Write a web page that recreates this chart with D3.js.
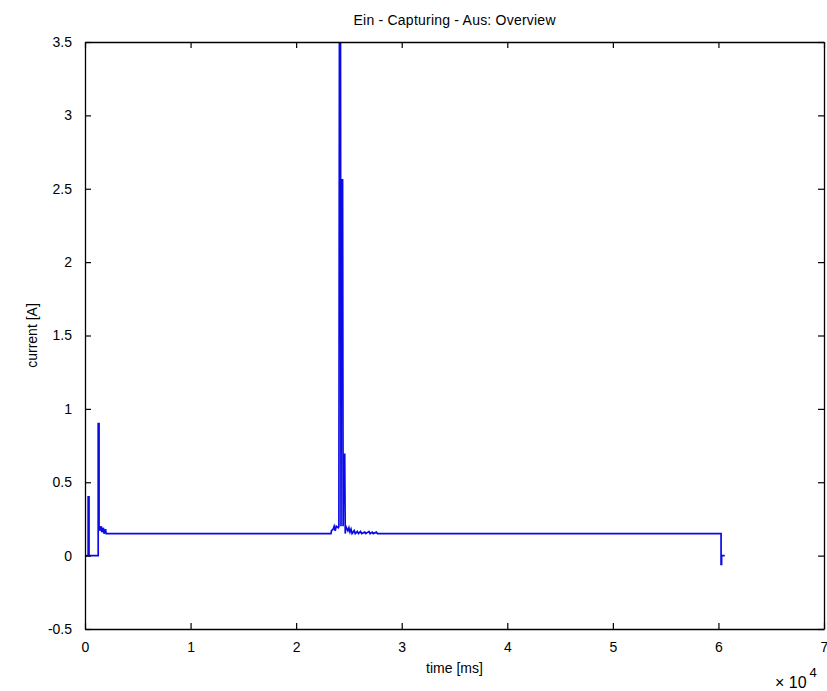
<!DOCTYPE html>
<html><head><meta charset="utf-8">
<script src="https://cdn.jsdelivr.net/npm/d3@7"></script>
<style>body{margin:0;background:#fff}text{font-family:"Liberation Sans",Arial,sans-serif;fill:#000}</style>
</head><body><svg id="c" width="827" height="691"></svg>
<script>
const xTicks=[0,10000,20000,30000,40000,50000,60000,70000];
const xTickLabels=["0","1","2","3","4","5","6","7"];
const yTicks=[-0.5,0,0.5,1,1.5,2,2.5,3,3.5];
const yTickLabels=["-0.5","0","0.5","1","1.5","2","2.5","3","3.5"];
const timeMs=[0,300,300,380,380,1250,1250,1330,1330,1400,1450,1550,1600,1750,1800,1950,2000,
 8000,15000,22000,23300,23350,23500,23600,23700,23800,24000,24050,24100,24200,24250,24300,24400,24450,24500,24600,24650,24700,
 24900,25000,25100,25200,25300,25500,25600,25800,25900,26100,26200,26500,26600,26900,27000,27200,27300,27600,27700,30000,40000,50000,60250,60250,60300,60300,60600];
const currentA=[0,0,0.4,0.4,0,0,0.9,0.9,0.17,0.2,0.17,0.2,0.16,0.19,0.15,0.18,0.15,
 0.15,0.15,0.15,0.15,0.17,0.18,0.2,0.17,0.2,0.19,0.2,3.6,3.6,0.2,2.56,2.56,0.2,0.69,0.69,0.15,0.2,
 0.17,0.19,0.16,0.18,0.15,0.17,0.15,0.165,0.15,0.165,0.15,0.16,0.15,0.165,0.15,0.16,0.15,0.16,0.15,0.15,0.15,0.15,0.15,-0.06,-0.06,0,0];

const svg=d3.select("#c");
const L=85,R=824,T=42,B=629;
const x=d3.scaleLinear().domain([0,70000]).range([L,R]);
const y=d3.scaleLinear().domain([-0.5,3.5]).range([B,T]);
const defs=svg.append("defs");
defs.append("clipPath").attr("id","clip").append("rect").attr("x",L).attr("y",T).attr("width",R-L).attr("height",B-T);
const data=timeMs.map((t,i)=>[t,currentA[i]]);
svg.append("path").datum(data).attr("clip-path","url(#clip)")
 .attr("d",d3.line().x(d=>x(d[0])).y(d=>y(d[1])))
 .attr("fill","none").attr("stroke","#0a0ae6").attr("stroke-width",1.7);

const FS=14;
const fmtX=d=>xTickLabels[xTicks.indexOf(d)], fmtY=d=>yTickLabels[yTicks.indexOf(d)];
function style(g){g.select(".domain").attr("stroke","#000").attr("stroke-width",1.3);g.selectAll(".tick line").attr("stroke","#000").attr("stroke-width",1.2);g.selectAll("text").attr("font-size",FS);}
svg.append("g").attr("transform",`translate(0,${B})`).call(d3.axisBottom(x).tickValues(xTicks).tickFormat(fmtX).tickSizeInner(-6).tickSizeOuter(0).tickPadding(13)).call(style);
svg.append("g").attr("transform",`translate(0,${T})`).call(d3.axisTop(x).tickValues(xTicks).tickFormat("").tickSizeInner(-6).tickSizeOuter(0)).call(style);
svg.append("g").attr("transform",`translate(${L},0)`).call(d3.axisLeft(y).tickValues(yTicks).tickFormat(fmtY).tickSizeInner(-6).tickSizeOuter(0).tickPadding(13)).call(style);
svg.append("g").attr("transform",`translate(${R},0)`).call(d3.axisRight(y).tickValues(yTicks).tickFormat("").tickSizeInner(-6).tickSizeOuter(0)).call(style);

svg.append("text").attr("x",(L+R)/2).attr("y",25).attr("text-anchor","middle").attr("font-size",FS).attr("textLength",202).text("Ein - Capturing - Aus: Overview");
svg.append("text").attr("x",(L+R)/2).attr("y",673).attr("text-anchor","middle").attr("font-size",FS).text("time [ms]");
svg.append("text").attr("transform",`translate(37,${(T+B)/2}) rotate(-90)`).attr("text-anchor","middle").attr("font-size",FS).text("current [A]");
const ex=svg.append("text").attr("x",775).attr("y",688).attr("font-size",16);
ex.append("tspan").text("\u00d7 10");
ex.append("tspan").attr("dy",-11).attr("dx",3).attr("font-size",13).text("4");
</script></body></html>
